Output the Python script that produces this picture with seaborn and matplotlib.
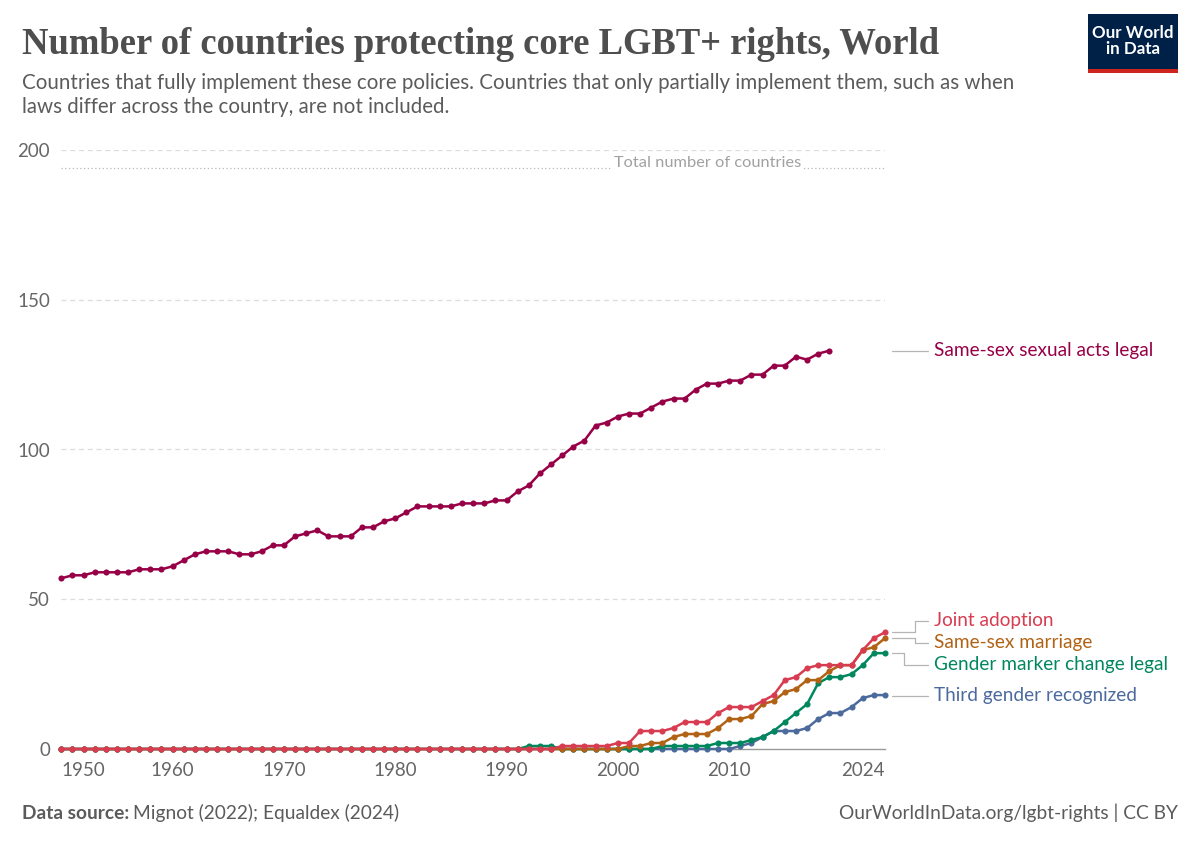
import numpy as np
import pandas as pd
import matplotlib.pyplot as plt
import seaborn as sns
from matplotlib.patches import Rectangle

# ---- data ----
years = list(range(1950, 2025))
years_acts = list(range(1950, 2020))

same_sex_acts = [57, 58, 58, 59, 59, 59, 59, 60, 60, 60,
                 61, 63, 65, 66, 66, 66, 65, 65, 66, 68,
                 68, 71, 72, 73, 71, 71, 71, 74, 74, 76,
                 77, 79, 81, 81, 81, 81, 82, 82, 82, 83,
                 83, 86, 88, 92, 95, 98, 101, 103, 108, 109,
                 111, 112, 112, 114, 116, 117, 117, 120, 122, 122,
                 123, 123, 125, 125, 128, 128, 131, 130, 132, 133]

joint_adoption = [0, 0, 0, 0, 0, 0, 0, 0, 0, 0,
                  0, 0, 0, 0, 0, 0, 0, 0, 0, 0,
                  0, 0, 0, 0, 0, 0, 0, 0, 0, 0,
                  0, 0, 0, 0, 0, 0, 0, 0, 0, 0,
                  0, 0, 0, 0, 0, 1, 1, 1, 1, 1,
                  2, 2, 6, 6, 6, 7, 9, 9, 9, 12,
                  14, 14, 14, 16, 18, 23, 24, 27, 28, 28,
                  28, 28, 33, 37, 39]

same_sex_marriage = [0, 0, 0, 0, 0, 0, 0, 0, 0, 0,
                     0, 0, 0, 0, 0, 0, 0, 0, 0, 0,
                     0, 0, 0, 0, 0, 0, 0, 0, 0, 0,
                     0, 0, 0, 0, 0, 0, 0, 0, 0, 0,
                     0, 0, 0, 0, 0, 0, 0, 0, 0, 0,
                     0, 1, 1, 2, 2, 4, 5, 5, 5, 7,
                     10, 10, 11, 15, 16, 19, 20, 23, 23, 26,
                     28, 28, 33, 34, 37]

gender_marker = [0, 0, 0, 0, 0, 0, 0, 0, 0, 0,
                 0, 0, 0, 0, 0, 0, 0, 0, 0, 0,
                 0, 0, 0, 0, 0, 0, 0, 0, 0, 0,
                 0, 0, 0, 0, 0, 0, 0, 0, 0, 0,
                 0, 0, 1, 1, 1, 0, 0, 0, 0, 0,
                 0, 0, 0, 0, 1, 1, 1, 1, 1, 2,
                 2, 2, 3, 4, 6, 9, 12, 15, 22, 24,
                 24, 25, 28, 32, 32]

third_gender = [0, 0, 0, 0, 0, 0, 0, 0, 0, 0,
                0, 0, 0, 0, 0, 0, 0, 0, 0, 0,
                0, 0, 0, 0, 0, 0, 0, 0, 0, 0,
                0, 0, 0, 0, 0, 0, 0, 0, 0, 0,
                0, 0, 0, 0, 0, 0, 0, 0, 0, 0,
                0, 0, 0, 0, 0, 0, 0, 0, 0, 0,
                0, 1, 2, 4, 6, 6, 6, 7, 10, 12,
                12, 14, 17, 18, 18]

total_countries = 194

x_ticks = [1950, 1960, 1970, 1980, 1990, 2000, 2010, 2024]
y_ticks = [0, 50, 100, 150, 200]

# drawn bottom -> top, so red ends up on top like the original
lower_series = [
    ("Third gender recognized", third_gender, "#4C6A9C"),
    ("Gender marker change legal", gender_marker, "#00875E"),
    ("Same-sex marriage", same_sex_marriage, "#B16214"),
    ("Joint adoption", joint_adoption, "#D73C50"),
]
acts_color = "#970046"

# ---- style ----
sns.set_theme(style="white")
plt.rcParams['font.family'] = ['Lato', 'DejaVu Sans']

W, H = 1200, 847
fig = plt.figure(figsize=(W / 100, H / 100), dpi=100)


def fx(px):
    return px / W


def fy(py):
    return 1 - py / H


ax = fig.add_axes([fx(61.3), fy(749), fx(885) - fx(61.3), fy(150) - fy(749)])
ax.set_xlim(1950, 2024)
ax.set_ylim(0, 200)

# grid
for v in y_ticks[1:]:
    ax.axhline(v, color="#dcdcdc", lw=0.9, ls=(0, (4, 3)), zorder=0)

# total number of countries
ax.axhline(total_countries, color="#b8b8b8", lw=0.9, ls=(0, (1, 2)), zorder=0)
ax.text(2008.1, total_countries + 1.6, "Total number of countries", ha="center",
        va="center", fontsize=11.8, color="#a1a1a1",
        bbox=dict(facecolor="white", edgecolor="none", pad=1.5), zorder=1)

# lines
sns.lineplot(x=years_acts, y=same_sex_acts, ax=ax, color=acts_color, lw=1.8,
             marker="o", markersize=4.4, markeredgewidth=0, clip_on=False, zorder=3)
for name, vals, col in lower_series:
    sns.lineplot(x=years, y=vals, ax=ax, color=col, lw=1.8, marker="o",
                 markersize=4.4, markeredgewidth=0, clip_on=False, zorder=3)

# axes
for s in ["top", "right", "left"]:
    ax.spines[s].set_visible(False)
ax.spines["bottom"].set_color("#999999")
ax.spines["bottom"].set_linewidth(1.0)

ax.set_xticks(x_ticks)
ax.set_xticklabels([str(t) for t in x_ticks])
ax.set_yticks(y_ticks)
ax.set_yticklabels([str(t) for t in y_ticks])
ax.tick_params(axis="x", length=5, width=1, color="#999999", labelsize=13.5,
               labelcolor="#666666", pad=4)
ax.tick_params(axis="y", length=0, labelsize=13.5, labelcolor="#666666", pad=8)
xl = ax.get_xticklabels()
xl[0].set_horizontalalignment("left")
xl[-1].set_horizontalalignment("right")
ax.set_xlabel("")
ax.set_ylabel("")

# end labels with connector lines
lab_x = 2028.4
lab_fs = 13.7
conn = "#b5b5b5"
ax.plot([2024.6, 2027.9], [same_sex_acts[-1], same_sex_acts[-1]], color=conn, lw=0.9, clip_on=False)
ax.text(lab_x, same_sex_acts[-1], "Same-sex sexual acts legal", color=acts_color,
        fontsize=lab_fs, va="center", ha="left")

ja, sm, gm, tg = joint_adoption[-1], same_sex_marriage[-1], gender_marker[-1], third_gender[-1]
ja_y, sm_y, gm_y, tg_y = 42.8, 35.4, 28.1, 17.7
ax.plot([2024.6, 2026.7, 2026.7, 2027.9], [ja, ja, ja_y, ja_y], color=conn, lw=0.9, clip_on=False)
ax.plot([2024.6, 2026.7, 2026.7, 2027.9], [sm, sm, sm_y, sm_y], color=conn, lw=0.9, clip_on=False)
ax.plot([2024.6, 2025.7, 2025.7, 2027.9], [gm, gm, gm_y, gm_y], color=conn, lw=0.9, clip_on=False)
ax.plot([2024.6, 2027.9], [tg_y, tg_y], color=conn, lw=0.9, clip_on=False)
ax.text(lab_x, ja_y, "Joint adoption", color="#D73C50", fontsize=lab_fs, va="center")
ax.text(lab_x, sm_y, "Same-sex marriage", color="#B16214", fontsize=lab_fs, va="center")
ax.text(lab_x, gm_y, "Gender marker change legal", color="#00875E", fontsize=lab_fs, va="center")
ax.text(lab_x, tg_y, "Third gender recognized", color="#4C6A9C", fontsize=lab_fs, va="center")

# header
fig.text(fx(22), fy(45), "Number of countries protecting core LGBT+ rights, World",
         family=["Liberation Serif", "DejaVu Serif"], fontsize=26.4, weight="bold",
         color="#4e4e4e", va="center", ha="left")
fig.text(fx(22), fy(83), "Countries that fully implement these core policies. Countries that only "
         "partially implement them, such as when", fontsize=14.8, color="#5b5b5b", va="center")
fig.text(fx(22), fy(107), "laws differ across the country, are not included.",
         fontsize=14.8, color="#5b5b5b", va="center")

# logo
fig.patches.append(Rectangle((fx(1088), fy(73)), fx(90), fy(14) - fy(73),
                             transform=fig.transFigure, facecolor="#002147", edgecolor="none"))
fig.patches.append(Rectangle((fx(1088), fy(73)), fx(90), fy(69) - fy(73),
                             transform=fig.transFigure, facecolor="#ce261e", edgecolor="none"))
fig.text(fx(1133), fy(41), "Our World\nin Data", ha="center", va="center", color="white",
         fontsize=12.2, weight="bold", linespacing=1.0)

# footer
foot_fs = 13.8
src_bold = fig.text(fx(22), fy(813), "Data source:", fontsize=foot_fs, weight="bold",
                    color="#5b5b5b", va="center")
fig.canvas.draw()
bb = src_bold.get_window_extent()
fig.text(fx(bb.x1 + 4), fy(813), "Mignot (2022); Equaldex (2024)", fontsize=foot_fs,
         color="#5b5b5b", va="center")
fig.text(fx(1178), fy(813), "OurWorldInData.org/lgbt-rights | CC BY", fontsize=foot_fs,
         color="#5b5b5b", va="center", ha="right")

fig.savefig("out.png", dpi=100)
